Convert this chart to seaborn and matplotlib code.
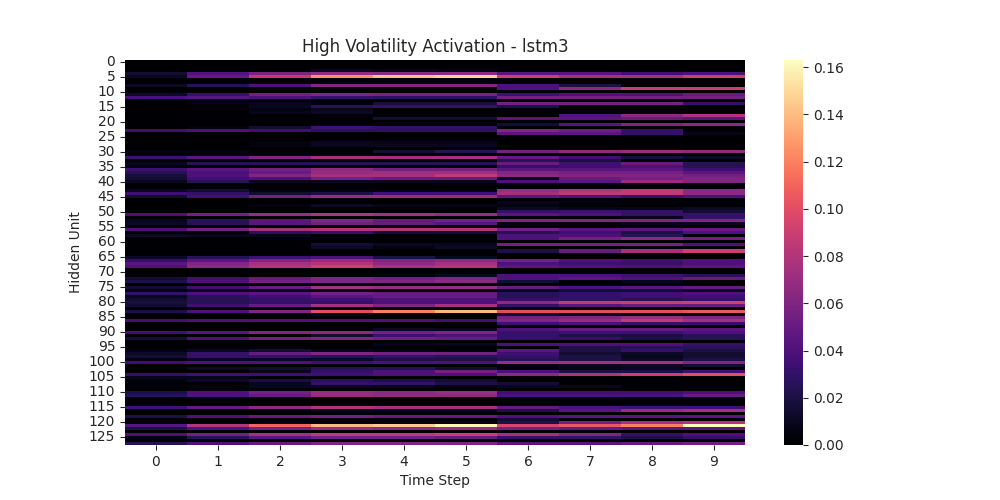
import numpy as np
import pandas as pd
import matplotlib
matplotlib.use("Agg")
import matplotlib.pyplot as plt
import seaborn as sns

time_steps = [0, 1, 2, 3, 4, 5, 6, 7, 8, 9]
title = "High Volatility Activation - lstm3"
x_label = "Time Step"
y_label = "Hidden Unit"

# activation values, hidden units 0-15 (one row per unit, one value per time step)
units_000_015 = [
    [0, 0, 0, 0, 0, 0, 0, 0, 0, 0],
    [0, 0, 0, 0, 0, 0, 0, 0, 0, 0],
    [0, 0, 0, 0, 0, 0, 0, 0, 0, 0],
    [0, 0, 0, 0.010, 0.008, 0.006, 0, 0, 0, 0],
    [0.015, 0.042, 0.058, 0.068, 0.065, 0.065, 0.045, 0.045, 0.035, 0.040],
    [0.010, 0.048, 0.085, 0.125, 0.142, 0.148, 0.090, 0.075, 0.075, 0.090],
    [0, 0, 0, 0, 0, 0, 0, 0, 0, 0],
    [0, 0, 0, 0, 0, 0, 0, 0, 0, 0],
    [0.012, 0.025, 0.040, 0.060, 0.060, 0.060, 0.040, 0.020, 0, 0],
    [0, 0, 0, 0, 0, 0, 0.040, 0.065, 0.090, 0.090],
    [0, 0, 0, 0, 0, 0, 0, 0, 0, 0],
    [0.012, 0.030, 0.055, 0.060, 0.058, 0.058, 0.035, 0.040, 0.040, 0.050],
    [0.040, 0.045, 0.040, 0.030, 0.028, 0.028, 0.055, 0.055, 0.055, 0.055],
    [0.003, 0.005, 0, 0, 0, 0, 0, 0, 0, 0],
    [0, 0.004, 0.008, 0.002, 0.018, 0.018, 0.055, 0.055, 0.055, 0.030],
    [0, 0, 0.010, 0.025, 0.030, 0.030, 0.020, 0, 0, 0],
]
units_016_031 = [
    [0, 0, 0.005, 0.010, 0, 0, 0, 0, 0, 0],
    [0, 0, 0.008, 0.012, 0, 0, 0, 0, 0, 0],
    [0, 0, 0, 0, 0, 0, 0, 0.042, 0.065, 0.080],
    [0, 0.003, 0.003, 0.003, 0.015, 0.015, 0.045, 0.045, 0.050, 0.045],
    [0, 0, 0, 0, 0, 0, 0, 0, 0, 0],
    [0, 0, 0, 0, 0, 0, 0.015, 0.045, 0.060, 0.065],
    [0, 0.005, 0.015, 0.035, 0.030, 0.030, 0, 0, 0, 0],
    [0.035, 0.040, 0.035, 0.028, 0.028, 0.028, 0.060, 0.052, 0.030, 0],
    [0, 0, 0, 0, 0, 0, 0.045, 0.045, 0.030, 0.008],
    [0, 0, 0, 0, 0, 0, 0, 0, 0, 0],
    [0, 0, 0, 0, 0, 0, 0, 0, 0, 0],
    [0, 0, 0.005, 0.010, 0.008, 0.008, 0, 0, 0, 0],
    [0, 0, 0.005, 0.010, 0.010, 0.010, 0, 0, 0, 0],
    [0, 0, 0, 0, 0, 0, 0, 0, 0, 0],
    [0.005, 0.005, 0.002, 0.002, 0.015, 0.025, 0.055, 0.065, 0.070, 0.065],
    [0, 0, 0, 0, 0, 0, 0, 0, 0, 0],
]
units_032_047 = [
    [0.035, 0.045, 0.060, 0.075, 0.075, 0.075, 0.050, 0.035, 0.018, 0.012],
    [0, 0, 0, 0, 0, 0, 0.025, 0.020, 0, 0],
    [0.010, 0.025, 0.025, 0.025, 0.025, 0.025, 0.050, 0.035, 0.050, 0.025],
    [0.005, 0, 0, 0, 0, 0, 0.030, 0.035, 0.040, 0.025],
    [0.035, 0.045, 0.055, 0.065, 0.055, 0.055, 0.045, 0.045, 0.045, 0.035],
    [0.025, 0.040, 0.050, 0.070, 0.072, 0.072, 0.060, 0.055, 0.055, 0.045],
    [0.018, 0.040, 0.060, 0.075, 0.075, 0.085, 0.065, 0.060, 0.060, 0.055],
    [0.015, 0.035, 0.040, 0.055, 0.050, 0.050, 0.010, 0.050, 0.055, 0.060],
    [0.010, 0.025, 0.010, 0.010, 0.010, 0.010, 0.040, 0.045, 0.070, 0.060],
    [0, 0, 0, 0, 0, 0, 0.005, 0.005, 0.005, 0.005],
    [0, 0, 0, 0, 0, 0, 0, 0, 0, 0],
    [0.010, 0.015, 0.005, 0.005, 0.005, 0.005, 0.070, 0.080, 0.085, 0.065],
    [0.035, 0.030, 0.015, 0.020, 0.035, 0.035, 0.075, 0.085, 0.085, 0.065],
    [0.015, 0.035, 0.055, 0.070, 0.070, 0.070, 0.045, 0.040, 0.030, 0.040],
    [0, 0, 0, 0, 0, 0, 0, 0, 0, 0],
    [0, 0, 0, 0, 0, 0, 0.008, 0.005, 0.003, 0.003],
]
units_048_063 = [
    [0, 0, 0.005, 0.012, 0.008, 0.008, 0.005, 0, 0, 0],
    [0, 0, 0, 0, 0, 0, 0.012, 0.008, 0.008, 0.012],
    [0, 0, 0, 0, 0, 0, 0.030, 0.035, 0.030, 0.015],
    [0.040, 0.055, 0.070, 0.080, 0.075, 0.070, 0.045, 0.040, 0.030, 0.030],
    [0, 0, 0, 0, 0, 0, 0.005, 0.005, 0.010, 0.030],
    [0.010, 0.025, 0.045, 0.060, 0.050, 0.055, 0.060, 0.060, 0.060, 0.060],
    [0.012, 0.025, 0.045, 0.055, 0.050, 0.045, 0.005, 0.003, 0.008, 0.008],
    [0, 0, 0, 0, 0, 0, 0, 0, 0, 0],
    [0.040, 0.055, 0.075, 0.080, 0.080, 0.080, 0.055, 0.045, 0.045, 0.050],
    [0, 0, 0.025, 0.030, 0.015, 0.015, 0.025, 0.035, 0.020, 0.040],
    [0.012, 0.010, 0.008, 0, 0, 0, 0.040, 0.040, 0.025, 0],
    [0, 0, 0, 0, 0, 0, 0.040, 0.055, 0.065, 0.055],
    [0, 0, 0, 0, 0, 0, 0, 0, 0, 0],
    [0, 0, 0, 0.015, 0.010, 0.010, 0.055, 0.055, 0.055, 0.040],
    [0, 0, 0, 0.012, 0.005, 0.012, 0, 0, 0, 0],
    [0, 0, 0, 0, 0, 0, 0.020, 0.050, 0.075, 0.090],
]
units_064_079 = [
    [0, 0, 0, 0, 0, 0, 0, 0, 0, 0],
    [0.012, 0.025, 0.035, 0.040, 0.020, 0.010, 0, 0, 0, 0],
    [0.030, 0.045, 0.060, 0.070, 0.060, 0.065, 0.055, 0.040, 0.035, 0.040],
    [0.045, 0.060, 0.075, 0.080, 0.065, 0.075, 0.040, 0.035, 0.030, 0.040],
    [0.040, 0.065, 0.080, 0.090, 0.075, 0.080, 0.045, 0.040, 0.040, 0.045],
    [0, 0, 0, 0, 0, 0, 0, 0, 0, 0],
    [0, 0, 0, 0, 0, 0, 0, 0, 0, 0],
    [0, 0, 0, 0, 0.003, 0.010, 0.040, 0.040, 0.035, 0.025],
    [0.015, 0.035, 0.050, 0.060, 0.055, 0.060, 0.040, 0.045, 0.040, 0.050],
    [0.020, 0.040, 0.055, 0.060, 0.060, 0.065, 0.015, 0, 0.008, 0],
    [0, 0, 0, 0, 0, 0, 0, 0, 0, 0],
    [0.015, 0.035, 0.050, 0.075, 0.070, 0.070, 0.050, 0.040, 0.045, 0.050],
    [0.005, 0.010, 0.010, 0.005, 0, 0, 0.010, 0.015, 0.015, 0.012],
    [0.030, 0.040, 0.045, 0.055, 0.050, 0.050, 0.025, 0.030, 0.035, 0.040],
    [0.010, 0.025, 0.035, 0.045, 0.050, 0.050, 0.025, 0.030, 0.035, 0.035],
    [0.015, 0.025, 0.030, 0.035, 0.040, 0.040, 0.030, 0.030, 0.025, 0.030],
]
units_080_095 = [
    [0.018, 0.025, 0.030, 0.030, 0.040, 0.040, 0.065, 0.085, 0.090, 0.090],
    [0.015, 0.035, 0.050, 0.075, 0.060, 0.075, 0.030, 0.045, 0.050, 0.050],
    [0, 0, 0, 0, 0, 0, 0.005, 0, 0, 0],
    [0.020, 0.040, 0.060, 0.100, 0.120, 0.138, 0.100, 0.100, 0.100, 0.105],
    [0, 0, 0, 0.008, 0, 0, 0.015, 0.010, 0.005, 0.005],
    [0, 0, 0, 0, 0, 0, 0.055, 0.060, 0.070, 0.060],
    [0.035, 0.040, 0.040, 0.040, 0.040, 0.035, 0.060, 0.070, 0.085, 0.075],
    [0, 0, 0, 0, 0, 0, 0.035, 0.040, 0.030, 0.030],
    [0, 0, 0, 0, 0, 0, 0, 0, 0, 0],
    [0, 0, 0, 0.003, 0.012, 0.010, 0.040, 0.050, 0.050, 0.045],
    [0.035, 0.045, 0.060, 0.065, 0.055, 0.060, 0.030, 0.035, 0.035, 0.040],
    [0, 0, 0, 0.015, 0.035, 0.040, 0.030, 0.020, 0.018, 0.025],
    [0.015, 0.040, 0.055, 0.060, 0.055, 0.050, 0.030, 0.030, 0.020, 0.025],
    [0, 0, 0, 0, 0, 0, 0, 0, 0, 0],
    [0, 0, 0, 0, 0.008, 0.008, 0.040, 0.040, 0.040, 0.030],
    [0, 0, 0, 0, 0, 0, 0, 0.020, 0.025, 0.025],
]
units_096_111 = [
    [0.005, 0.010, 0.015, 0.008, 0.005, 0.002, 0.045, 0.020, 0.030, 0.020],
    [0.012, 0.030, 0.050, 0.060, 0.055, 0.055, 0.035, 0.015, 0.012, 0.015],
    [0.015, 0.030, 0.030, 0.025, 0.030, 0.025, 0.030, 0.020, 0.010, 0.015],
    [0.005, 0.010, 0.010, 0.012, 0.020, 0.020, 0.025, 0.020, 0.012, 0.020],
    [0.035, 0.040, 0.040, 0.035, 0.040, 0.040, 0.070, 0.075, 0.075, 0.060],
    [0, 0, 0, 0, 0, 0, 0.005, 0.010, 0.012, 0.015],
    [0.005, 0.012, 0.015, 0.025, 0.025, 0.015, 0, 0.008, 0.010, 0],
    [0, 0, 0.010, 0.030, 0.040, 0.055, 0.040, 0.020, 0.020, 0.035],
    [0.030, 0.035, 0.035, 0.035, 0.040, 0.040, 0.065, 0.080, 0.090, 0.100],
    [0.008, 0.008, 0.003, 0, 0, 0, 0, 0, 0, 0],
    [0.005, 0.012, 0.018, 0.025, 0.020, 0.015, 0, 0, 0, 0],
    [0, 0, 0.010, 0.030, 0.030, 0.020, 0.015, 0, 0, 0],
    [0, 0.005, 0.010, 0.010, 0.008, 0.005, 0.010, 0.010, 0, 0],
    [0, 0, 0, 0, 0, 0, 0, 0, 0, 0],
    [0.020, 0.040, 0.055, 0.070, 0.065, 0.070, 0.035, 0.035, 0.035, 0.040],
    [0.025, 0.040, 0.050, 0.070, 0.065, 0.065, 0.040, 0.040, 0.040, 0.050],
]
units_112_127 = [
    [0, 0, 0, 0, 0, 0, 0, 0, 0, 0],
    [0, 0, 0, 0, 0, 0, 0, 0, 0, 0],
    [0, 0, 0, 0, 0, 0, 0, 0, 0, 0],
    [0.035, 0.050, 0.065, 0.080, 0.075, 0.075, 0.050, 0.040, 0.035, 0.035],
    [0, 0, 0, 0.008, 0.008, 0.008, 0.020, 0.045, 0.070, 0.075],
    [0, 0, 0, 0, 0, 0, 0, 0, 0, 0],
    [0.020, 0.040, 0.050, 0.055, 0.050, 0.050, 0.040, 0.045, 0.045, 0.045],
    [0, 0, 0, 0, 0, 0, 0.015, 0, 0, 0],
    [0, 0, 0, 0, 0, 0, 0.020, 0.055, 0.075, 0.080],
    [0.045, 0.080, 0.110, 0.140, 0.145, 0.160, 0.095, 0.105, 0.120, 0.163],
    [0.020, 0.040, 0.055, 0.070, 0.065, 0.070, 0.055, 0.050, 0.045, 0.045],
    [0, 0, 0, 0, 0, 0, 0, 0, 0, 0],
    [0.040, 0.055, 0.075, 0.085, 0.085, 0.090, 0.075, 0.060, 0.030, 0.040],
    [0.005, 0.025, 0.045, 0.055, 0.055, 0.050, 0.030, 0.030, 0.020, 0.030],
    [0, 0, 0, 0, 0, 0, 0, 0, 0, 0],
    [0.025, 0.040, 0.050, 0.060, 0.060, 0.060, 0.045, 0.045, 0.050, 0.055],
]

blocks = [units_000_015, units_016_031, units_032_047, units_048_063,
          units_064_079, units_080_095, units_096_111, units_112_127]
values = np.vstack([np.array(b, dtype=float) for b in blocks])
hidden_units = list(range(values.shape[0]))
df = pd.DataFrame(values, index=hidden_units, columns=time_steps)

sns.set_style("white")
fig, ax = plt.subplots(figsize=(10, 5), dpi=100)
sns.heatmap(df, cmap="magma", ax=ax, yticklabels=5, xticklabels=1,
            vmin=0, cbar=True)
ax.set_title(title, fontsize=12)
ax.set_xlabel(x_label, fontsize=10)
ax.set_ylabel(y_label, fontsize=10)
ax.tick_params(axis="both", labelsize=10, left=True, bottom=True, length=3.5)
plt.setp(ax.get_yticklabels(), rotation=0)
plt.setp(ax.get_xticklabels(), rotation=0)
cbar = ax.collections[0].colorbar
cbar.ax.tick_params(labelsize=10, right=True, length=3.5)
fig.savefig("out.png", dpi=100)
